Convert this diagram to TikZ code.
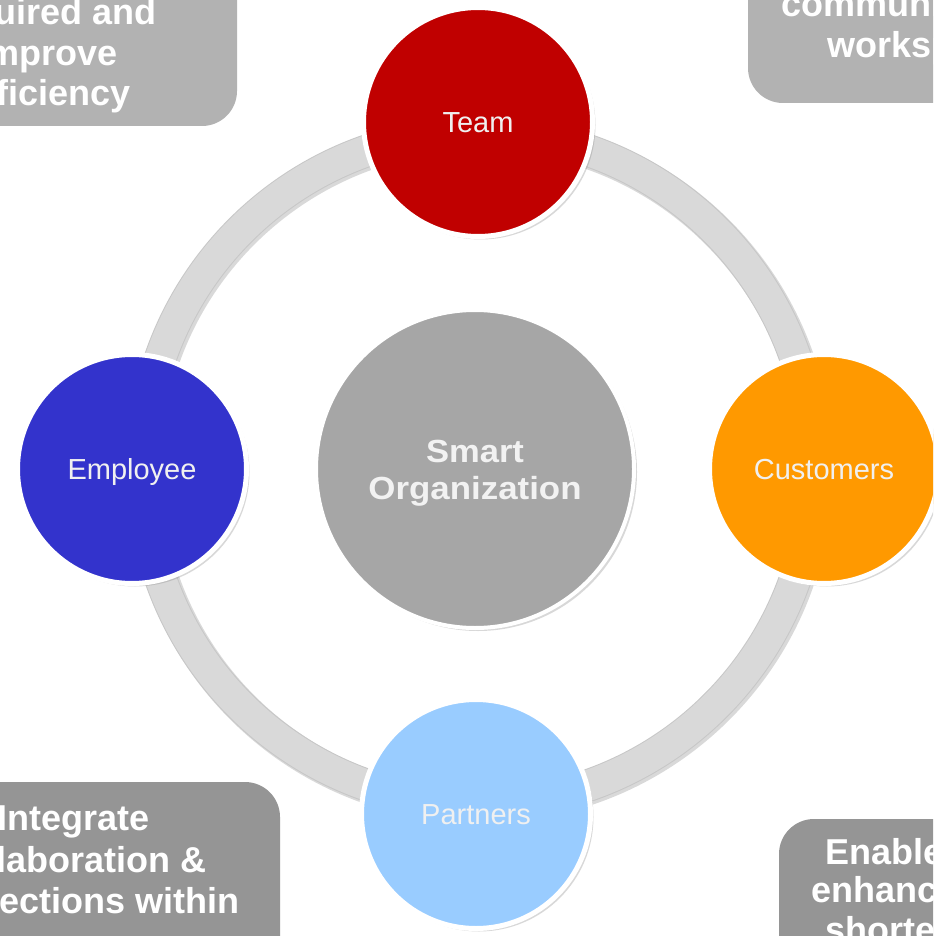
\documentclass[tikz,border=0pt]{standalone}
\usepackage{fontspec}
\setmainfont{Liberation Sans}
\usepackage{xcolor}
\definecolor{teamred}{HTML}{C00000}
\definecolor{empblue}{HTML}{3333CC}
\definecolor{custorange}{HTML}{FF9900}
\definecolor{partblue}{HTML}{99CCFF}
\definecolor{orggray}{HTML}{A6A6A6}
\definecolor{ringgray}{HTML}{D9D9D9}
\definecolor{boxlight}{HTML}{B2B2B2}
\definecolor{boxdark}{HTML}{959595}
\usetikzlibrary{shadows}

\begin{document}
\begin{tikzpicture}[x=0.5pt,y=-0.5pt,
	member/.style={circle, draw=white, line width=2.5pt, minimum size=114.5pt, inner sep=0pt,
		text=white!94!black, font=\fontsize{14.5}{17}\selectfont, text height=10.4pt, text depth=0pt,
		drop shadow={shadow xshift=1.5pt, shadow yshift=-1.5pt, opacity=0.3}},
	note/.style={rounded corners=17.5pt},
	notetext/.style={text=white, font=\bfseries\fontsize{18}{20}\selectfont, inner sep=0pt}]
		\useasboundingbox (0,0) rectangle (933,936);
		\clip (0,0) rectangle (933,936);
		\fill[white] (0,0) rectangle (933,936);

		%draw ring
		\coordinate (hub) at (478,468);
		\draw[black, opacity=0.15, line width=17pt] ([shift={(2,2)}]hub) circle (168pt);
		\draw[black!22, line width=16.4pt] (hub) circle (168pt);
		\draw[ringgray, line width=15.4pt] (hub) circle (168pt);

		%corner notes
		\fill[boxlight, note] (-100,-100) rectangle (237,126);
		\fill[boxlight, note] (748,-100) rectangle (1100,103);
		\fill[boxdark, note] (-150,782) rectangle (280,1100);
		\fill[boxdark, note] (779,819) rectangle (1100,1100);

		\node[notetext, anchor=base east] (know1) at (157,25) {acquired and};
		\node[notetext, anchor=base east] (know2) at (118,65.5) {improve};
		\node[notetext, anchor=base east] (know3) at (131,106) {efficiency};

		\node[notetext, anchor=base west] (comm1) at (781,17) {communities};
		\node[notetext, anchor=base west] (comm2) at (827,58) {workspaces};

		\node[notetext, anchor=base west] (link1) at (-3,830) {Integrate};
		\node[notetext, anchor=base east] (link2) at (207,872) {collaboration \&};
		\node[notetext, anchor=base east] (link3) at (240,913) {connections within};

		\node[notetext, anchor=base west] (enab1) at (825,864) {Enables};
		\node[notetext, anchor=base west] (enab2) at (811,902) {enhanced};
		\node[notetext, anchor=base west] (enab3) at (825,942) {shorter};

		%center
		\node[circle, fill=orggray, draw=white, line width=2pt, minimum size=159pt, inner sep=0pt,
			align=center, text=white!95!black, font=\bfseries\fontsize{16}{18.5}\selectfont,
			text height=30pt, text depth=0pt,
			drop shadow={shadow xshift=1.5pt, shadow yshift=-1.5pt, opacity=0.3}]
			(org) at (475,469) {\scalebox{1.08}[1]{Smart}\\\scalebox{1.09}[1]{Organization}};

		%outer circles
		\foreach \nm/\px/\py/\col/\txt in {team/478/122/teamred/Team, employee/132/469/empblue/Employee,
			customers/824/469/custorange/Customers, partners/476/814/partblue/Partners}
		\node[member, fill=\col] (\nm) at (\px,\py) {\txt};
	\end{tikzpicture}
\end{document}
